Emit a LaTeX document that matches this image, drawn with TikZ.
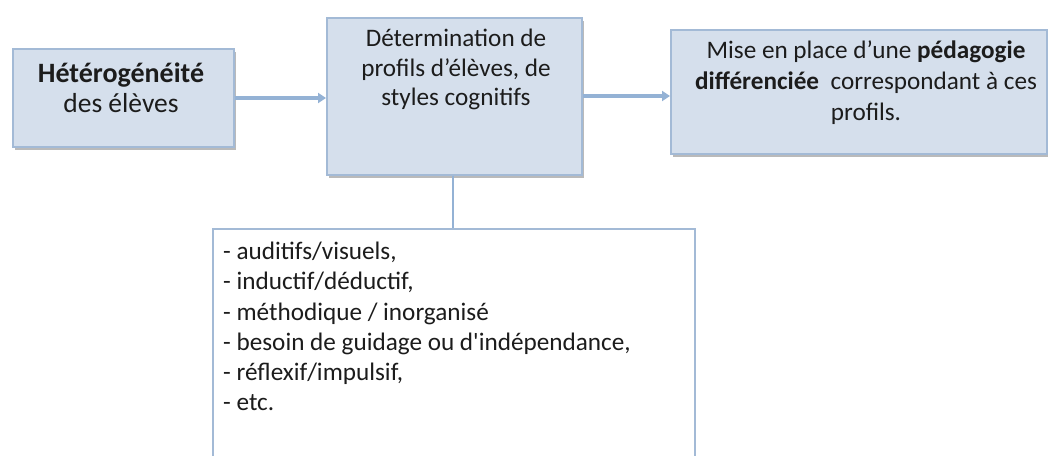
\documentclass[tikz,border=0pt]{standalone}
\usepackage{fontspec}
\setmainfont{Carlito}[Ligatures=TeXOff]
\usetikzlibrary{shadows,arrows.meta}
\definecolor{boxfill}{HTML}{D5DFEC}
\definecolor{boxline}{HTML}{A3BAD6}
\definecolor{arrowc}{HTML}{94B2D5}
\definecolor{txt}{HTML}{1C1C1C}
\tikzset{
  card/.style={draw=boxline, line width=1.5pt, fill=boxfill, anchor=north west, inner sep=0pt,
    drop shadow={shadow xshift=2pt, shadow yshift=-3pt, opacity=0.45, fill=black!60}},
  listbox/.style={draw=boxline, line width=1.5pt, fill=white, anchor=north west, inner sep=0pt},
  lbl/.style={anchor=base, inner sep=0pt, text=txt, font=\fontsize{25.2}{30}\selectfont},
  lblL/.style={anchor=base west, inner sep=0pt, text=txt, font=\fontsize{25.2}{30}\selectfont},
  conn/.style={draw=arrowc, line width=3.6pt, -{Triangle[length=8pt,width=10pt]}},
  plain/.style={draw=arrowc, line width=1.5pt}
}
\begin{document}
\begin{tikzpicture}[x=1pt,y=-1pt]
\useasboundingbox (0,0) rectangle (1048,455);
\clip (0,0) rectangle (1048,455);
\fill[white] (0,0) rectangle (1048,455);
% boxes
\node[card, minimum width=221pt, minimum height=98pt] (b1) at (12,48) {};
\node[card, minimum width=255pt, minimum height=157pt] (b2) at (326,17) {};
\node[card, minimum width=376pt, minimum height=124pt] (b3) at (670,29) {};
\node[listbox, minimum width=482pt, minimum height=260pt] (b4) at (212,228) {};
% connectors
\draw[conn] (b1.east |- 0,98) -- (b2.west |- 0,98);
\draw[conn] (b2.east |- 0,96) -- (b3.west |- 0,96);
\coordinate (c2) at (453,175);
\coordinate (c4) at (453,228);
\draw[plain] (b2.south -| c2) -- (b4.north -| c4);
% texts box 1
\node[lbl, font=\fontsize{28}{30}\selectfont\bfseries] (t1a) at (121,82) {Hétérogénéité};
\node[lbl, font=\fontsize{27.5}{30}\selectfont] (t1b) at (121,112) {des élèves};
% texts box 2
\node[lbl] (t2a) at (456,46) {Détermination de};
\node[lbl] (t2b) at (456,76) {profils d’élèves, de};
\node[lbl] (t2c) at (456,105) {styles cognitifs};
% texts box 3
\node[lbl] (t3a) at (866,58) {Mise en place d’une \textbf{pédagogie}};
\node[lbl] (t3b) at (866,89) {\textbf{différenciée}\ \ correspondant à ces};
\node[lbl] (t3c) at (866,120) {profils.};
% list
\node[lblL] (l1) at (223,259) {- auditifs/visuels,};
\node[lblL] (l2) at (223,289) {- inductif/déductif,};
\node[lblL] (l3) at (223,320) {- méthodique / inorganisé};
\node[lblL] (l4) at (223,350) {- besoin de guidage ou d'indépendance,};
\node[lblL] (l5) at (223,380) {- réflexif/impulsif,};
\node[lblL] (l6) at (223,410) {- etc.};
\end{tikzpicture}
\end{document}
